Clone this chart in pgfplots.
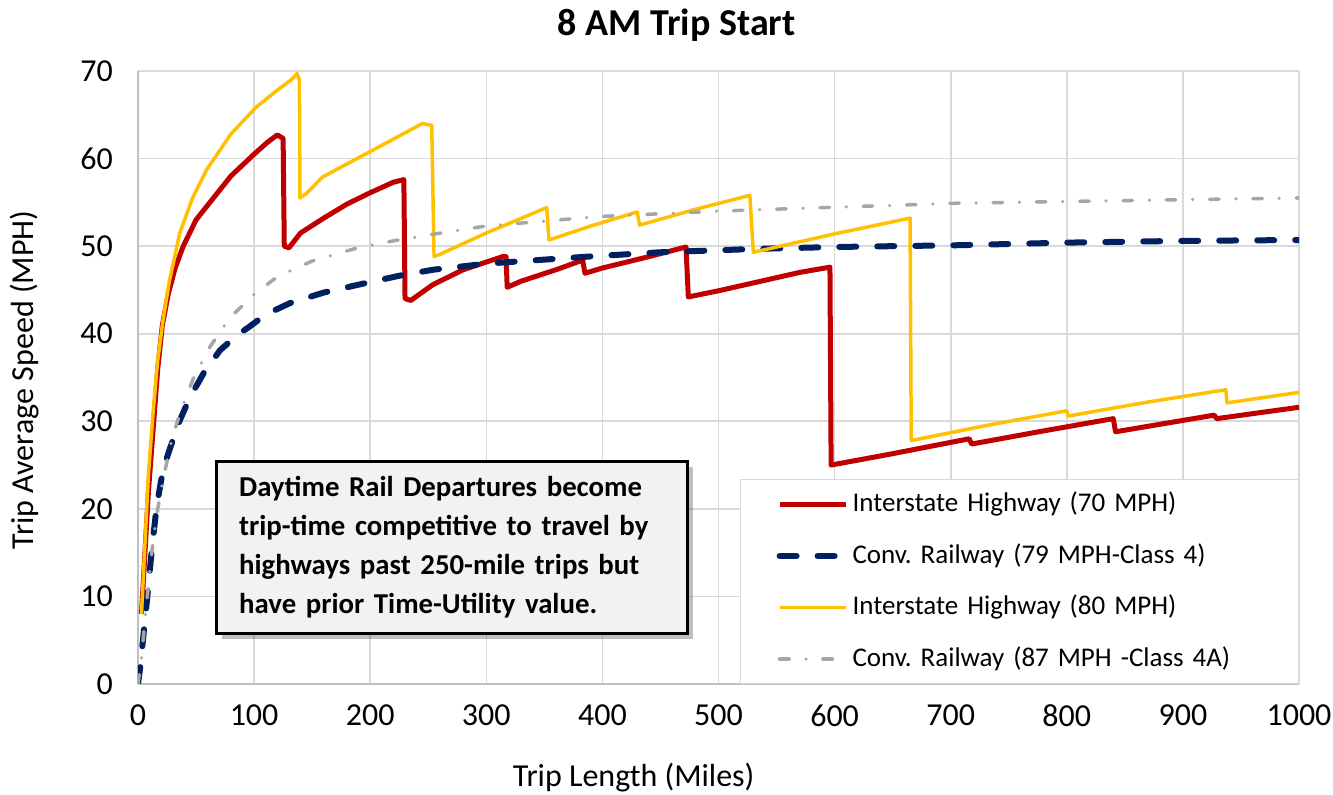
\documentclass[border=0pt]{standalone}
\usepackage{fontspec}
\setmainfont{Carlito}
\usepackage{pgfplots}
\pgfplotsset{compat=1.18}
\usetikzlibrary{calc,shadows}
\definecolor{hwyA}{HTML}{C00000}
\definecolor{railA}{HTML}{002060}
\definecolor{hwyB}{HTML}{FFC000}
\definecolor{railB}{HTML}{A6A6A6}
\definecolor{gridc}{HTML}{D9D9D9}
\definecolor{axisc}{HTML}{BFBFBF}
\definecolor{boxfill}{HTML}{F2F2F2}
\frenchspacing

\begin{document}
\begin{tikzpicture}
\begin{axis}[
  scale only axis, width=580.5pt, height=306.5pt,
  xmin=0, xmax=1000, ymin=0, ymax=70,
  xtick={0,100,...,1000}, ytick={0,10,...,70},
  grid=major, grid style={gridc, line width=0.8pt},
  axis lines*=left, axis line style={axisc, line width=1pt},
  major tick length=0pt,
  tick label style={font=\fontsize{16}{19}\selectfont},
  /pgf/number format/assume math mode=true,
  /pgf/number format/1000 sep={},
  xticklabel style={yshift=-7pt}, yticklabel style={xshift=-9pt},
  title={8 AM Trip Start},
  xlabel={Trip Length (Miles)},
  ylabel={Trip Average Speed (MPH)},
  every axis title/.style={at={(0.464,1.075)}, anchor=center, font=\fontsize{19}{23}\selectfont\bfseries},
  every axis x label/.style={at={(0.427,-0.153)}, anchor=center, font=\fontsize{16}{19}\selectfont},
  every axis y label/.style={at={(-0.0973,0.496)}, rotate=90, anchor=center, font=\fontsize{16}{19}\selectfont},
  legend style={at={(1,0)}, anchor=south east, draw=gridc, fill=white,
    font=\fontsize{13.5}{16}\selectfont, inner xsep=18pt, inner ysep=3.5pt, row sep=8.3pt,
    nodes={inner xsep=2pt, inner ysep=2pt, align=left, text width=203pt, text height=10.5pt, text depth=3pt}},
  legend cell align=left,
  legend image code/.code={\draw[#1] (0pt,0pt) -- (33pt,0pt);},
]
% Interstate Highway (70 MPH)
\addplot[hwyA, line width=2.5pt, line join=round] coordinates {
 (3,8) (6,15) (9,22) (13,29) (17,36) (21,41) (26,44.5) (32,47.5) (39,50)
 (50,53) (65,55.5) (80,58) (100,60.5) (111,61.8) (120,62.7) (125,62.3)
 (126,50) (130,49.8) (140,51.5) (160,53.2) (180,54.8) (200,56.1) (220,57.3) (229,57.6)
 (230,44) (235,43.8) (254,45.6) (280,47.3) (314,48.8) (317,48.8)
 (318,45.3) (330,46.0) (360,47.3) (383,48.4)
 (385,46.9) (400,47.5) (440,48.8) (472,49.9)
 (474,44.2) (500,44.9) (570,47) (596,47.6)
 (597,25) (650,26.3) (716,28.0)
 (718,27.4) (780,28.9) (840,30.3)
 (842,28.8) (900,30.1) (927,30.7)
 (929,30.3) (1000,31.6)};
\addlegendentry{Interstate Highway (70 MPH)}
% Conv. Railway (79 MPH-Class 4)
\addplot[railA, line width=3pt, line cap=round, dash pattern=on 8.5pt off 10.5pt] coordinates {
 (0,0) (2,2) (5,6) (8.6,10.7) (12,15.5) (16,20.2) (20,23.3) (25,25.9) (35,29.8)
 (45,32.8) (57,35.6) (70.6,38.1) (85,39.8) (96,40.8) (110,42.2) (131,43.5)
 (160,44.7) (200,45.9) (228,46.7) (254,47.3) (300,48.0) (387,48.8) (450,49.3)
 (536,49.7) (600,49.9) (705,50.1) (800,50.4) (900,50.6) (1000,50.7)};
\addlegendentry{Conv. Railway (79 MPH-Class 4)}
% Interstate Highway (80 MPH)
\addplot[hwyB, line width=1.75pt, line join=round] coordinates {
 (3,8) (6,16) (9,24) (13,31) (17,37) (21.5,41.5) (27,46) (36,51.5) (47,55.5)
 (59,58.7) (80,62.8) (102,65.9) (120,67.8) (132,69) (137,69.7) (139,69)
 (139.5,55.5) (145,56) (159,57.9) (200,60.8) (245,64) (253,63.8)
 (255,48.8) (259,49) (300,51.5) (352,54.4)
 (354,50.7) (390,52.3) (430,53.9)
 (432,52.4) (480,54.2) (527,55.8)
 (530,49.3) (600,51.4) (665,53.2)
 (666,27.8) (730,29.5) (800,31.2)
 (801,30.6) (870,32.2) (937,33.6)
 (938,32.1) (1000,33.3)};
\addlegendentry{Interstate Highway (80 MPH)}
% Conv. Railway (87 MPH -Class 4A)
\addplot[railB, line width=1.75pt, line cap=round, dash pattern=on 4.75pt off 8.45pt on 0pt off 8.45pt] coordinates {
 (0,0) (3,3) (6,7.3) (9.5,12) (13,16.4) (17,20) (21.5,23.3) (28,27.3) (36,30.9)
 (48,35) (62,38.5) (79,41.8) (100,44.5) (120,46.5) (150,48.3) (189,49.8)
 (220,50.6) (251.5,51.3) (300,52.3) (363,53.0) (400,53.4) (500,54.0)
 (567,54.3) (705,54.9) (800,55.1) (900,55.3) (1000,55.5)};
\addlegendentry{Conv. Railway (87 MPH -Class 4A)}

\node[draw=black, line width=1.5pt, fill=boxfill,
  drop shadow={shadow xshift=3pt, shadow yshift=-3pt, opacity=0.25, fill=black},
  anchor=north west, text width=212.5pt, inner xsep=11.5pt, minimum height=86pt,
  align=left, font=\fontsize{14.4}{19.4}\selectfont\bfseries]
  at (axis cs:66,25.6) {Daytime Rail Departures become\\ trip-time competitive to travel by\\ highways past 250-mile trips but\\ have prior Time-Utility value.};

\coordinate (pSW) at (rel axis cs:0,0);
\coordinate (pNE) at (rel axis cs:1,1);
\end{axis}
\pgfresetboundingbox
\path[use as bounding box] ($(pSW)+(-69pt,-55.5pt)$) rectangle ($(pNE)+(17pt,35.5pt)$);
\end{tikzpicture}
\end{document}
